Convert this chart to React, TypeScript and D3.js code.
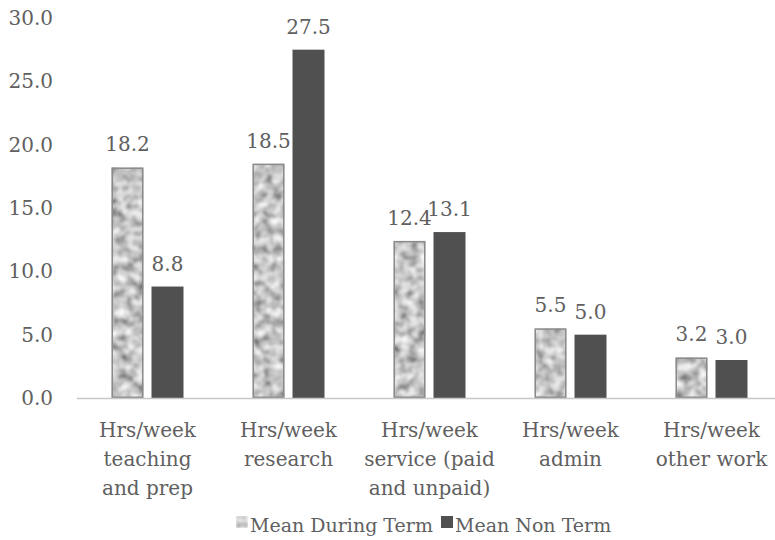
import React from "react";
import * as d3 from "d3";

const categories = [
  ["Hrs/week", "teaching", "and prep"],
  ["Hrs/week", "research"],
  ["Hrs/week", "service (paid", "and unpaid)"],
  ["Hrs/week", "admin"],
  ["Hrs/week", "other work"],
];
const duringTerm = [18.2, 18.5, 12.4, 5.5, 3.2];
const nonTerm = [8.8, 27.5, 13.1, 5.0, 3.0];
const yTicks = [0, 5, 10, 15, 20, 25, 30];
const seriesNames = ["Mean During Term", "Mean Non Term"];

const W = 775;
const H = 540;
const FONT = "'DejaVu Serif', serif";
const TXT = "#606060";
const FS = 20;

export default function App() {
  const y = d3.scaleLinear().domain([0, 30]).range([398, 18]);
  const x = d3
    .scaleBand<number>()
    .domain(d3.range(categories.length))
    .range([77, 782]);
  const barW = 32;
  const gap = 8;
  const offsets = [-gap / 2 - barW, gap / 2];
  const series = [duringTerm, nonTerm];
  const cx = (i: number) => (x(i) as number) + x.bandwidth() / 2;

  return (
    <svg width={W} height={H} style={{ position: "absolute", left: 0, top: 0, background: "#fff" }}>
      <defs>
        <filter id="granite" x="0" y="0" width="1" height="1" filterUnits="objectBoundingBox">
          <feTurbulence type="fractalNoise" baseFrequency="0.11" numOctaves="2" seed="11" result="noise" />
          <feColorMatrix
            in="noise"
            type="matrix"
            values="1.25 0 0 0 -0.06  1.25 0 0 0 -0.06  1.25 0 0 0 -0.06  0 0 0 0 1"
            result="gray0"
          />
          <feGaussianBlur in="gray0" stdDeviation="0.8" result="gray" />
          <feComposite in="gray" in2="SourceGraphic" operator="in" />
        </filter>
      </defs>
      {yTicks.map((t) => (
        <text
          key={t}
          x={53}
          y={y(t)}
          dy="0.35em"
          textAnchor="end"
          fontFamily={FONT}
          fontSize={FS}
          fill={TXT}
        >
          {t.toFixed(1)}
        </text>
      ))}
      {series.map((vals, si) =>
        vals.map((v, i) => {
          const bx = cx(i) + offsets[si];
          const by = y(v);
          const bh = y(0) - y(v);
          return (
            <g key={`${si}-${i}`}>
              {si === 0 ? (
                <>
                  <rect x={bx} y={by} width={barW} height={bh} fill="#000" filter="url(#granite)" />
                  <rect
                    x={bx + 0.75}
                    y={by + 0.75}
                    width={barW - 1.5}
                    height={bh - 1.5}
                    fill="none"
                    stroke="#8a8a8a"
                    strokeWidth={1.5}
                  />
                </>
              ) : (
                <rect x={bx} y={by} width={barW} height={bh} fill="#505050" />
              )}
              <text
                x={bx + barW / 2}
                y={by - 16}
                textAnchor="middle"
                fontFamily={FONT}
                fontSize={FS}
                fill={TXT}
              >
                {v.toFixed(1)}
              </text>
            </g>
          );
        })
      )}
      <line x1={77} x2={782} y1={398.5} y2={398.5} stroke="#c8c8c8" strokeWidth={1.5} />
      {categories.map((lines, i) => (
        <text key={i} x={cx(i)} y={430} textAnchor="middle" fontFamily={FONT} fontSize={FS} fill={TXT}>
          {lines.map((l, j) => (
            <tspan key={j} x={cx(i)} dy={j === 0 ? "0.35em" : 29}>
              {l}
            </tspan>
          ))}
        </text>
      ))}
      <g>
        <rect x={236} y={516} width={12} height={12} fill="#000" filter="url(#granite)" />
        <text x={250} y={532} fontFamily={FONT} fontSize={19} fill={TXT}>
          {seriesNames[0]}
        </text>
        <rect x={441} y={516} width={12} height={12} fill="#505050" />
        <text x={455} y={532} fontFamily={FONT} fontSize={19} fill={TXT}>
          {seriesNames[1]}
        </text>
      </g>
    </svg>
  );
}
